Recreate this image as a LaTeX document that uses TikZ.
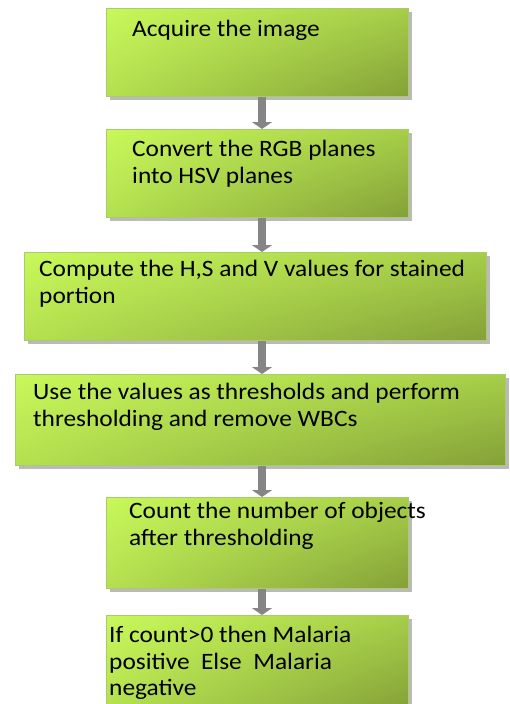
\documentclass[tikz,border=0pt]{standalone}
\usepackage{fontspec}
\setmainfont[FakeStretch=1.08]{Carlito}
\usetikzlibrary{shadows,shadings,arrows.meta,calc}
\definecolor{gUL}{HTML}{C8F85A}
\definecolor{gUR}{HTML}{A6CE48}
\definecolor{gLL}{HTML}{B4E050}
\definecolor{gLR}{HTML}{84A038}
\definecolor{gEdge}{HTML}{A9CB6E}
\definecolor{arr}{HTML}{858585}
\begin{document}
\begin{tikzpicture}[x=1pt,y=1pt,
  stepbox/.style={rectangle, inner sep=0pt, draw=gEdge, line width=1pt,
    upper left=gUL, upper right=gUR, lower left=gLL, lower right=gLR,
    drop shadow={shadow xshift=3pt, shadow yshift=-3pt, fill=black!45, opacity=0.6},
    anchor=north west},
  steptext/.style={anchor=north west, inner sep=0pt, align=left,
    font=\fontsize{23.5}{26.5}\selectfont},
  flowarrow/.style={draw=arr, line width=8pt,
    -{Triangle[width=20pt,length=7pt,fill=arr]}}]
\useasboundingbox (0,0) rectangle (509,-704);
\coordinate (ax) at (262,0);
% boxes
\node[stepbox, minimum width=302, minimum height=88] (b1) at (106,-8) {};
\node[stepbox, minimum width=302, minimum height=88] (b2) at (106,-129) {};
\node[stepbox, minimum width=462, minimum height=88] (b3) at (24,-252) {};
\node[stepbox, minimum width=490, minimum height=91] (b4) at (15,-374) {};
\node[stepbox, minimum width=302, minimum height=91] (b5) at (106,-497) {};
\node[stepbox, minimum width=302, minimum height=95] (b6) at (106,-615) {};
% texts
\node[steptext] (t1) at (132,-20) {Acquire the image};
\node[steptext] (t2) at (132,-140) {Convert the RGB planes\\into HSV planes};
\node[steptext] (t3) at (39,-260) {Compute the H,S and V values for stained\\portion};
\node[steptext] (t4) at (33,-383) {Use the values as thresholds and perform\\thresholding and remove WBCs};
\node[steptext] (t5) at (129,-502) {Count the number of objects\\after thresholding};
\node[steptext] (t6) at (109,-626) {If count>0 then Malaria\\positive\ \ Else\ \ Malaria\\negative};
% arrows
\draw[flowarrow] (b1.south -| ax) -- (b2.north -| ax);
\draw[flowarrow] (b2.south -| ax) -- (b3.north -| ax);
\draw[flowarrow] (b3.south -| ax) -- (b4.north -| ax);
\draw[flowarrow] (b4.south -| ax) -- (b5.north -| ax);
\draw[flowarrow] (b5.south -| ax) -- (b6.north -| ax);
\end{tikzpicture}
\end{document}
